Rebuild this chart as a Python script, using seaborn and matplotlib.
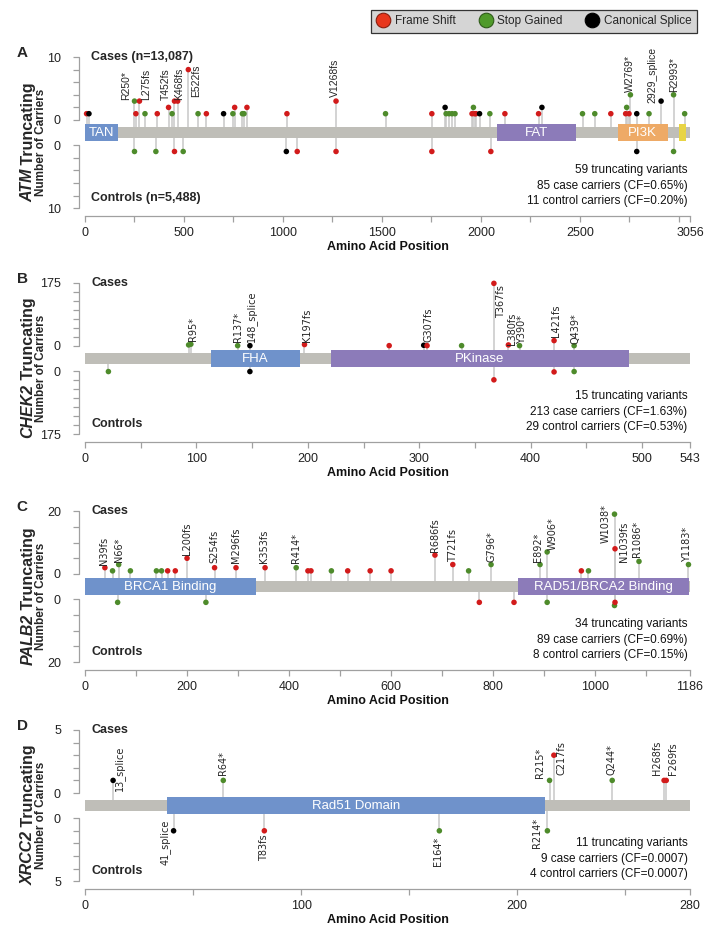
#!/usr/bin/env python3
# Lollipop plots of truncating variants (cases up, controls down) for four genes

import numpy as np
import pandas as pd
import seaborn as sns
import matplotlib.pyplot as plt
from matplotlib.lines import Line2D
from matplotlib.patches import Rectangle

sns.set_theme(style="ticks")
plt.rcParams["font.family"] = ["Liberation Sans", "DejaVu Sans"]

PALETTE = {"F": "#d21b1b", "S": "#4e8b2b", "C": "#000000"}
STEM = "#c8c8c8"
BACKBONE = "#bfbeb8"
AXIS = "#a0a0a0"
BLUE, PURPLE, ORANGE, YELLOW = "#6f92cb", "#8c7bb9", "#eeaa66", "#e8d444"
NARROW = ["Liberation Sans Narrow", "Liberation Sans", "DejaVu Sans"]

# ---------------- ATM ----------------
atm_case_pos = [8, 20, 250, 257, 275, 303, 365, 422, 440, 452, 468, 522, 571, 613,
                700, 747, 756, 795, 803, 818, 1020, 1268, 1518, 1752, 1819, 1824,
                1839, 1854, 1869, 1955, 1962, 1968, 1975, 1993, 2045, 2121, 2291,
                2308, 2513, 2575, 2656, 2731, 2736, 2748, 2755, 2787, 2849, 2910,
                2973, 3029]
atm_case_n = [1, 1, 3, 1, 3, 1, 1, 2, 1, 3, 3, 8, 1, 1,
              1, 1, 2, 1, 1, 2, 1, 3, 1, 1, 2, 1,
              1, 1, 1, 1, 2, 1, 1, 1, 1, 1, 1,
              2, 1, 1, 1, 1, 2, 1, 4, 1, 1, 3,
              4, 1]
atm_case_type = "FCSFFSFFSFFFSFCSFSSFFFSFCSSSSFSFFCSFFCSSFFSFSCSCSS"
atm_ctrl_pos = [250, 358, 452, 496, 1017, 1072, 1268, 1752, 2050, 2787, 2973]
atm_ctrl_n = [1, 1, 1, 1, 1, 1, 1, 1, 1, 1, 1]
atm_ctrl_type = "SSFSCFFFFCS"
atm_domains = [("TAN", 0, 165, BLUE), ("FAT", 2079, 2479, PURPLE),
               ("PI3K", 2691, 2943, ORANGE), ("", 3000, 3034, YELLOW)]
atm_xticks = list(range(0, 3001, 250)) + [3056]
atm_xlabels = ["0", "500", "1000", "1500", "2000", "2500", "3056"]
atm_labels = ["R250*", "L275fs", "T452fs", "K468fs", "E522fs", "V1268fs",
              "W2769*", "2929_splice", "R2993*"]
atm_stats = ["59 truncating variants", "85 case carriers (CF=0.65%)",
             "11 control carriers (CF=0.20%)"]

# ---------------- CHEK2 ----------------
chek2_case_pos = [93, 95, 137, 148, 197, 273, 304, 307, 338, 367, 380, 390, 421, 439]
chek2_case_n = [3, 5, 1, 1, 4, 1, 2, 1, 1, 174, 3, 1, 15, 1]
chek2_case_type = "SSSCFFCFSFFSFS"
chek2_ctrl_pos = [21, 148, 367, 421, 439]
chek2_ctrl_n = [1, 1, 24, 2, 1]
chek2_ctrl_type = "SCFFS"
chek2_domains = [("FHA", 113, 193, BLUE), ("PKinase", 221, 488, PURPLE)]
chek2_xticks = list(range(0, 501, 50)) + [543]
chek2_xlabels = ["0", "100", "200", "300", "400", "500", "543"]
chek2_labels = ["R95*", "R137*", "148_splice", "K197fs", "G307fs", "T367fs",
                "L380fs", "Y390*", "L421fs", "Q439*"]
chek2_stats = ["15 truncating variants", "213 case carriers (CF=1.63%)",
               "29 control carriers (CF=0.53%)"]

# ---------------- PALB2 ----------------
palb2_case_pos = [39, 54, 66, 89, 140, 150, 162, 177, 200, 254, 296, 353, 414, 437,
                  443, 483, 515, 559, 600, 686, 721, 752, 796, 892, 906, 973, 987,
                  1038, 1039, 1086, 1183]
palb2_case_n = [2, 1, 3, 1, 1, 1, 1, 1, 5, 2, 2, 2, 2, 1,
                1, 1, 1, 1, 1, 6, 3, 1, 3, 3, 7, 1, 1,
                19, 8, 4, 3]
palb2_case_type = "FSSSSSFFFFFFSFFSFFFFFSSSSFSSFSS"
palb2_ctrl_pos = [64, 237, 773, 841, 906, 1038, 1039]
palb2_ctrl_n = [1, 1, 1, 1, 1, 2, 1]
palb2_ctrl_type = "SSFFSSF"
palb2_domains = [("BRCA1 Binding", 0, 335, BLUE),
                 ("RAD51/BRCA2 Binding", 849, 1185, PURPLE)]
palb2_xticks = list(range(0, 1101, 100)) + [1186]
palb2_xlabels = ["0", "200", "400", "600", "800", "1000", "1186"]
palb2_labels = ["N39fs", "N66*", "L200fs", "S254fs", "M296fs", "K353fs", "R414*",
                "R686fs", "T721fs", "G796*", "E892*", "W906*", "W1038*", "N1039fs",
                "R1086*", "Y1183*"]
palb2_stats = ["34 truncating variants", "89 case carriers (CF=0.69%)",
               "8 control carriers (CF=0.15%)"]

# ---------------- XRCC2 ----------------
xrcc2_case_pos = [13, 64, 215, 217, 244, 268, 269]
xrcc2_case_n = [1, 1, 1, 3, 1, 1, 1]
xrcc2_case_type = "CSSFSFF"
xrcc2_ctrl_pos = [41, 83, 164, 214]
xrcc2_ctrl_n = [1, 1, 1, 1]
xrcc2_ctrl_type = "CFSS"
xrcc2_domains = [("Rad51 Domain", 38, 213, BLUE)]
xrcc2_xticks = list(range(0, 251, 50)) + [280]
xrcc2_xlabels = ["0", "100", "200", "280"]
xrcc2_labels = ["13_splice", "R64*", "R215*", "C217fs", "Q244*", "H268fs", "F269fs"]
xrcc2_ctrl_labels = ["41_splice", "T83fs", "E164*", "R214*"]
xrcc2_stats = ["11 truncating variants", "9 case carriers (CF=0.0007)",
               "4 control carriers (CF=0.0007)"]

# label placement (x in residues, y in carrier counts) -- layout only
atm_label_xy = [(207, 3.2), (311, 3.2), (407, 3.2), (474, 3.2), (563, 3.65),
                (1261, 3.7), (2753, 4.4), (2866, 2.7), (2975, 4.4)]
chek2_label_xy = [(96.7, 15), (137, 11), (149, 11), (199.6, 11), (308, 11),
                  (373.7, 77), (383, 2), (392.6, 6), (423, 24), (440, 6)]
palb2_label_xy = [(38, 2.9), (65.7, 3.9), (200, 6), (253, 3.4), (296, 3.4),
                  (351, 3.4), (413, 3.4), (686, 7.1), (721, 3.9), (797, 3.9),
                  (888, 3.9), (917.5, 7.6), (1020, 9.7), (1056, 3.9), (1082, 5.5),
                  (1180, 3.9)]
xrcc2_label_xy = [(16, 0.15), (63.7, 1.4), (210.7, 1.2), (220.5, 1.4),
                  (243.6, 1.4), (264.6, 1.4), (272.3, 1.4)]
xrcc2_ctrl_label_xy = [(37.1, 0.13), (82.8, 1.3), (163.5, 1.5), (209, 0.0)]

W, H = 708, 932
PX = 6.3          # pixels per y unit
GAP = 2.0         # distance from protein axis to the zero line
YTOP = GAP + 10 + 5 / PX
YBOT = -(GAP + 10) - 8 / PX


def draw_panel(fig, top_px, letter, gene, length, top, tick_step, xticks, xlabels,
               case_pos, case_n, case_type, ctrl_pos, ctrl_n, ctrl_type, domains,
               labels, label_xy, stats, titles, lab_font, lab_size,
               ctrl_labels=(), ctrl_label_xy=()):
    height_px = (YTOP - YBOT) * PX
    ax = fig.add_axes([79 / W, 1 - (top_px - 5 + height_px) / H, 618 / W, height_px / H])
    ax.set_xlim(-6 / 605 * length, 612 / 605 * length)
    ax.set_ylim(YBOT, YTOP)

    cases = pd.DataFrame({"pos": case_pos, "n": case_n, "type": list(case_type)})
    cases["y"] = GAP + 10 * cases["n"] / top
    ctrls = pd.DataFrame({"pos": ctrl_pos, "n": ctrl_n, "type": list(ctrl_type)})
    ctrls["y"] = -(GAP + 10 * ctrls["n"] / top)

    ax.vlines(cases["pos"], 0, cases["y"], color=STEM, lw=1.1, zorder=1)
    ax.vlines(ctrls["pos"], 0, ctrls["y"], color=STEM, lw=1.1, zorder=1)
    ax.add_patch(Rectangle((0, -0.85), length, 1.7, facecolor=BACKBONE, lw=0, zorder=2))
    for name, a, b, col in domains:
        ax.add_patch(Rectangle((a, -1.4), b - a, 2.8, facecolor=col, lw=0, zorder=3))
        ax.text((a + b) / 2, -0.05, name, color="white", size=9.5,
                ha="center", va="center", zorder=5)

    both = pd.concat([cases, ctrls], ignore_index=True)
    sns.scatterplot(data=both, x="pos", y="y", hue="type", palette=PALETTE,
                    hue_order=["F", "S", "C"], s=16, linewidth=0, legend=False,
                    ax=ax, zorder=4)

    # axes in the R base-graphics look
    sns.despine(ax=ax, left=True)
    ax.spines["bottom"].set_bounds(0, length)
    ax.spines["bottom"].set_color(AXIS)
    ax.spines["bottom"].set_linewidth(0.9)
    for s in (1, -1):
        ax.plot([0, 0], [s * GAP, s * (GAP + 10)], transform=ax.get_yaxis_transform(),
                color=AXIS, lw=0.9, clip_on=False)
    k = np.arange(0, top + 1, tick_step)
    yv = GAP + 10 * k / top
    ylab = ["0" if v == 0 else (str(top) if v == top else "") for v in k]
    ax.set_yticks(np.concatenate([yv, -yv]), ylab + ylab)
    ax.set_xticks(xticks, [str(t) if str(t) in xlabels else "" for t in xticks])
    ax.tick_params(axis="y", length=4, width=0.9, color=AXIS, labelsize=9,
                   labelcolor="#222222", pad=9)
    ax.tick_params(axis="x", length=4, width=0.9, color=AXIS, labelsize=9,
                   labelcolor="#222222", pad=4)
    for t in ax.get_xticklabels():
        t.set_family(NARROW)
    ax.set_xlabel("Amino Acid Position", weight="bold", size=9, family=NARROW,
                  labelpad=1, color="#111111")
    ax.set_ylabel("")

    ax.text(0.01 * length, GAP + 10, titles[0], weight="bold", size=9, va="center")
    ax.text(0.01 * length, -(GAP + 10) + 1.6, titles[1], weight="bold", size=9,
            va="center")
    for s, yy in zip(stats, (-5.9, -8.4, -10.8)):
        ax.text(0.996 * length, yy, s, ha="right", va="center", size=8.5,
                color="#111111")

    for s, (x, n) in zip(labels, label_xy):
        ax.text(x, GAP + 10 * n / top, s, rotation=90, rotation_mode="anchor",
                ha="left", va="center", size=lab_size, family=lab_font, zorder=6)
    for s, (x, n) in zip(ctrl_labels, ctrl_label_xy):
        ax.text(x, -(GAP + 10 * n / top), s, rotation=90, rotation_mode="anchor",
                ha="right", va="center", size=lab_size, family=lab_font, zorder=6)

    fig.text(22 / W, 1 - (top_px - 4) / H, letter, weight="bold", size=11,
             ha="center", va="center")
    ylabel(fig, gene, top_px + 85)
    return ax


def ylabel(fig, gene, yc_px):
    # "GENE Truncating" with the gene in bold italic, then a smaller second line
    r = fig.canvas.get_renderer()
    kw = dict(rotation=90, rotation_mode="anchor", ha="left", va="center",
              weight="bold", size=11.5)
    t1 = fig.text(28 / W, 0, gene, style="italic", **kw)
    t2 = fig.text(28 / W, 0, " Truncating", **kw)
    h1 = t1.get_window_extent(r).height
    h2 = t2.get_window_extent(r).height
    y0 = (H - yc_px) - (h1 + h2) / 2
    t1.set_y(y0 / H)
    t2.set_y((y0 + h1) / H)
    fig.text(41 / W, 1 - yc_px / H, "Number of Carriers", rotation=90, weight="bold",
             size=8.5, ha="center", va="center")


fig = plt.figure(figsize=(W / 100, H / 100), dpi=100)

draw_panel(fig, 57, "A", "ATM", 3056, 10, 2, atm_xticks, atm_xlabels,
           atm_case_pos, atm_case_n, atm_case_type, atm_ctrl_pos, atm_ctrl_n,
           atm_ctrl_type, atm_domains, atm_labels, atm_label_xy, atm_stats,
           ("Cases (n=13,087)", "Controls (n=5,488)"), "Liberation Sans", 7.5)
draw_panel(fig, 283, "B", "CHEK2", 543, 175, 25, chek2_xticks, chek2_xlabels,
           chek2_case_pos, chek2_case_n, chek2_case_type, chek2_ctrl_pos, chek2_ctrl_n,
           chek2_ctrl_type, chek2_domains, chek2_labels, chek2_label_xy, chek2_stats,
           ("Cases", "Controls"), "DejaVu Sans", 7)
draw_panel(fig, 511, "C", "PALB2", 1186, 20, 5, palb2_xticks, palb2_xlabels,
           palb2_case_pos, palb2_case_n, palb2_case_type, palb2_ctrl_pos, palb2_ctrl_n,
           palb2_ctrl_type, palb2_domains, palb2_labels, palb2_label_xy, palb2_stats,
           ("Cases", "Controls"), "DejaVu Sans", 7)
draw_panel(fig, 730, "D", "XRCC2", 280, 5, 1, xrcc2_xticks, xrcc2_xlabels,
           xrcc2_case_pos, xrcc2_case_n, xrcc2_case_type, xrcc2_ctrl_pos, xrcc2_ctrl_n,
           xrcc2_ctrl_type, xrcc2_domains, xrcc2_labels, xrcc2_label_xy, xrcc2_stats,
           ("Cases", "Controls"), "DejaVu Sans", 7,
           xrcc2_ctrl_labels, xrcc2_ctrl_label_xy)

legend_items = [("Frame Shift", "#e8361c", "#8a1d0e"),
                ("Stop Gained", "#4f9a2a", "#2d5a18"),
                ("Canonical Splice", "#000000", "#000000")]
handles = [Line2D([], [], ls="", marker="o", markersize=10.5, markerfacecolor=c,
                  markeredgecolor=e, markeredgewidth=0.8, label=l)
           for l, c, e in legend_items]
leg = fig.legend(handles=handles, ncol=3, loc="upper right",
                 bbox_to_anchor=(697 / W, 1 - 10 / H), frameon=True, fancybox=False,
                 facecolor="#d5d5d5", edgecolor="#333333", framealpha=1,
                 fontsize=8.5, handletextpad=0.4, columnspacing=1.9, borderpad=0.45,
                 handlelength=1.2, borderaxespad=0)
leg.get_frame().set_linewidth(0.9)

fig.savefig("out.png", dpi=100)
